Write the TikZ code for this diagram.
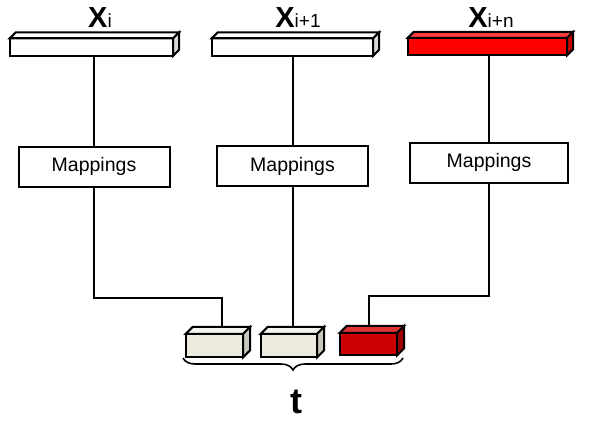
\documentclass[tikz,border=0pt]{standalone}
\usepackage{fontspec}
\setmainfont{Liberation Sans}
\usetikzlibrary{decorations.pathreplacing,backgrounds,calc}
\definecolor{redfront}{HTML}{FF0000}
\definecolor{redtop}{HTML}{FF3B3B}
\definecolor{redside}{HTML}{C80000}
\definecolor{creamfront}{HTML}{EDEBE0}
\definecolor{creamtop}{HTML}{F4F3EC}
\definecolor{creamside}{HTML}{C6C6BC}
\definecolor{dredfront}{HTML}{CC0000}
\definecolor{dredtop}{HTML}{DD3333}
\definecolor{dredside}{HTML}{A00000}
\tikzset{
  face/.style={draw=black, line width=2pt, line join=miter},
  mapbox/.style={draw=black, line width=2pt, minimum width=151, minimum height=40, inner sep=0pt, font=\fontsize{19.5}{19.5}\selectfont},
  conn/.style={draw=black, line width=2pt},
  lbl/.style={anchor=base, inner sep=0pt},
}
\newcommand{\boxthreed}[5]{% name, front, top, side, depth
  \fill[#2] (#1.south west) rectangle (#1.north east);
  \draw[face, fill=#3] (#1.north west) -- ++(#5,-#5) -- ($(#1.north east)+(#5,-#5)$) -- (#1.north east) -- cycle;
  \draw[face, fill=#4] (#1.north east) -- ++(#5,-#5) -- ($(#1.south east)+(#5,-#5)$) -- (#1.south east) -- cycle;
  \draw[face] (#1.south west) rectangle (#1.north east);
}
\begin{document}
\begin{tikzpicture}[x=1pt,y=-1pt]
\useasboundingbox (0,0) rectangle (604,426);
% big bars (front faces)
\node[minimum width=163, minimum height=17, inner sep=0pt] (b1) at (91.5,47) {};
\node[minimum width=161, minimum height=17, inner sep=0pt] (b2) at (292.5,47) {};
\node[minimum width=159, minimum height=17, inner sep=0pt] (b3) at (487.5,46.5) {};
% mapping boxes
\node[mapbox] (m1) at (94,166.5) {Mappings};
\node[mapbox] (m2) at (292.5,166) {Mappings};
\node[mapbox, minimum width=158] (m3) at (489,162.5) {Mappings};
% small boxes (front faces)
\node[minimum width=57, minimum height=23, inner sep=0pt] (s1) at (214.5,345.5) {};
\node[minimum width=56, minimum height=23, inner sep=0pt] (s2) at (289,345.5) {};
\node[minimum width=57, minimum height=22, inner sep=0pt] (s3) at (368.5,344) {};
% junction coordinates
\coordinate (j1) at (222,298);
\coordinate (j3) at (369,296);
% connectors
\begin{pgfonlayer}{background}
\draw[conn] (b1.south -| m1.north) -- (m1.north);
\draw[conn] (b2.south -| m2.north) -- (m2.north);
\draw[conn] (b3.south -| m3.north) -- (m3.north);
\draw[conn] (m1.south) |- (j1) -- (j1 |- s1.north);
\draw[conn] (m2.south) -- (m2.south |- s2.north);
\draw[conn] (m3.south) |- (j3) -- (j3 |- s3.north);
\end{pgfonlayer}
% 3D boxes
\boxthreed{b1}{white}{white}{lightgray!60}{6}
\boxthreed{b2}{white}{white}{lightgray!60}{6}
\boxthreed{b3}{redfront}{redtop}{redside}{6}
\boxthreed{s1}{creamfront}{creamtop}{creamside}{7}
\boxthreed{s2}{creamfront}{creamtop}{creamside}{7}
\boxthreed{s3}{dredfront}{dredtop}{dredside}{7}
% labels
\node[lbl] (l1) at (100,27) {\fontsize{29}{29}\selectfont\bfseries X\fontsize{19}{19}\selectfont\mdseries i};
\node[lbl] (l2) at (298,27) {\fontsize{29}{29}\selectfont\bfseries X\fontsize{19}{19}\selectfont\mdseries i+1};
\node[lbl] (l3) at (491,27) {\fontsize{29}{29}\selectfont\bfseries X\fontsize{19}{19}\selectfont\mdseries i+n};
% brace
\coordinate (br1) at (183,358);
\coordinate (br2) at (403,358);
\draw[line width=1.6pt, decorate, decoration={brace, mirror, amplitude=12pt}] (br1) -- (br2);
\node[lbl] (t) at (296,413) {\fontsize{36}{36}\selectfont\bfseries t};
\end{tikzpicture}
\end{document}
